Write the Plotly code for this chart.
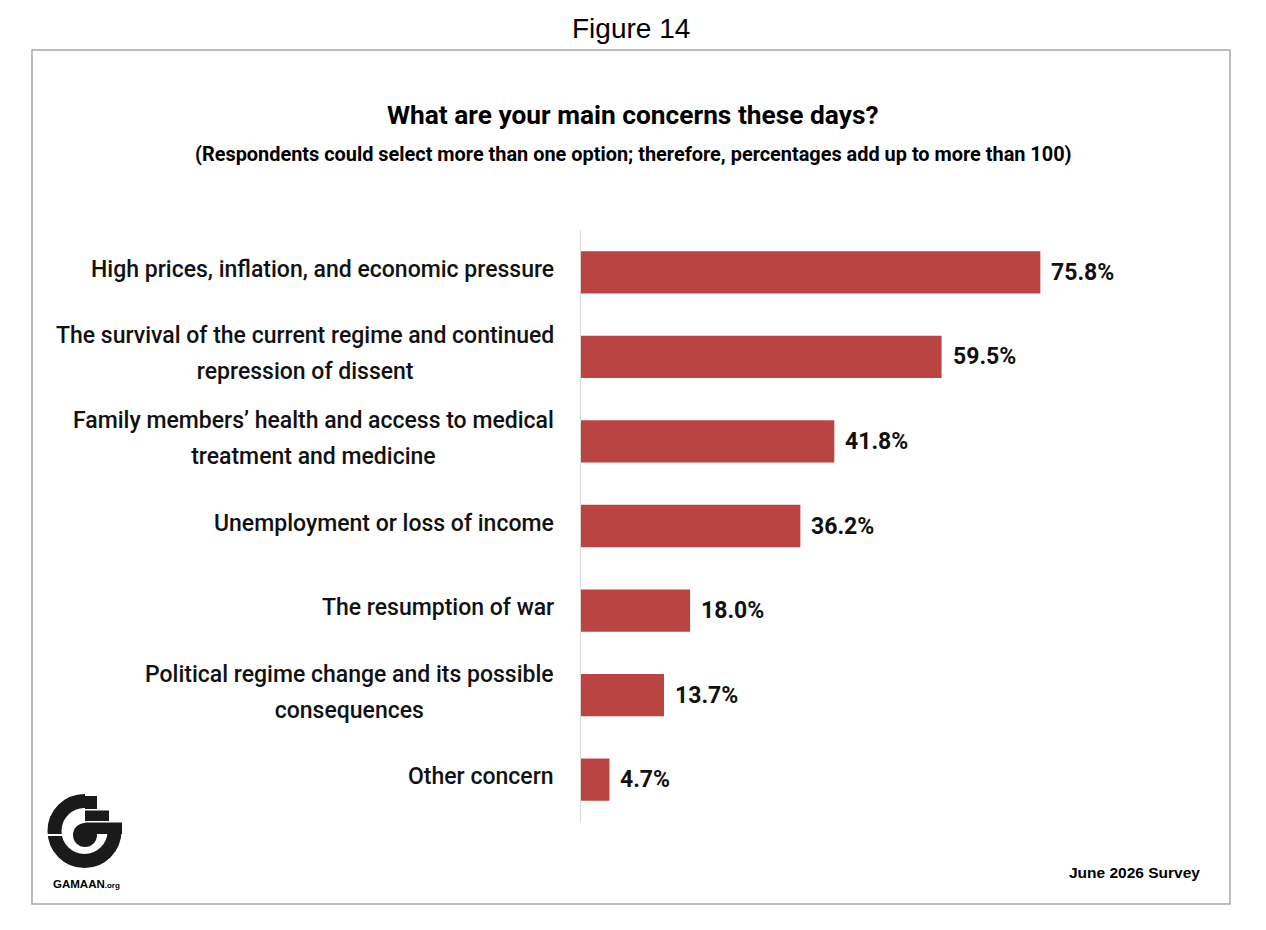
import plotly.graph_objects as go

# data
categories = [
    "High prices, inflation, and economic pressure",
    "The survival of the current regime and continued\nrepression of dissent",
    "Family members\u2019 health and access to medical\ntreatment and medicine",
    "Unemployment or loss of income",
    "The resumption of war",
    "Political regime change and its possible\nconsequences",
    "Other concern",
]
values = [75.8, 59.5, 41.8, 36.2, 18.0, 13.7, 4.7]
value_labels = ["75.8%", "59.5%", "41.8%", "36.2%", "18.0%", "13.7%", "4.7%"]

BAR_COLOR = "#B94442"
FONT = "Roboto"

# page offset of the figure inside the browser (body margin)
OFF = 8
W, H = 1266, 930
# plot area, in reference-picture pixels
L, R, T, B = 581, 1187, 230, 822


def px(x):
    return (x - L) / (R - L)


def py(y):
    return (B - y) / (B - T)


fig = go.Figure()
fig.add_trace(go.Bar(
    x=values,
    y=categories,
    orientation="h",
    width=0.5,
    marker=dict(color=BAR_COLOR, line=dict(width=0)),
    hoverinfo="skip",
))

annotations = []
# category labels: outer font size sets the line gap, inner span the glyph size
for cat in categories:
    lines = cat.split("\n")
    text = "<br>".join("<span style='font-size:23px'>%s</span>" % ln for ln in lines)
    annotations.append(dict(x=0, xref="paper", y=cat, yref="y", xanchor="right", yanchor="middle",
                            align="center", showarrow=False, xshift=-25, yshift=3, text=text,
                            font=dict(family=FONT, size=27.7, color="#111111", weight=500)))

# value labels
for cat, v, lab in zip(categories, values, value_labels):
    annotations.append(dict(x=v, xref="x", y=cat, yref="y", xanchor="left", yanchor="middle",
                            text=lab, showarrow=False, xshift=9,
                            font=dict(family=FONT, size=23, color="#111111", weight=700)))

# titles and notes
annotations += [
    dict(x=px(631), y=py(28), xref="paper", yref="paper", text="Figure 14", showarrow=False,
         xanchor="center", yanchor="middle", font=dict(family="Liberation Sans", size=28, color="#000000")),
    dict(x=px(633), y=py(115), xref="paper", yref="paper", text="<b>What are your main concerns these days?</b>",
         showarrow=False, xanchor="center", yanchor="middle", font=dict(family=FONT, size=26.3, color="#000000")),
    dict(x=px(633), y=py(155), xref="paper", yref="paper",
         text="<b>(Respondents could select more than one option; therefore, percentages add up to more than 100)</b>",
         showarrow=False, xanchor="center", yanchor="middle", font=dict(family=FONT, size=19.9, color="#000000")),
    dict(x=px(1202), y=py(872), xref="paper", yref="paper", text="<b>June 2026 Survey</b>",
         showarrow=False, xanchor="right", yanchor="middle", font=dict(family="Liberation Sans", size=15.5, color="#000000")),
    dict(x=px(86), y=py(884), xref="paper", yref="paper",
         text="<b>GAMAAN<span style='font-size:8px'>.org</span></b>",
         showarrow=False, xanchor="center", yanchor="middle", font=dict(family="Liberation Sans", size=11.5, color="#000000")),
]


def rect(x0, y0, x1, y1, **kw):
    return dict(type="rect", xref="paper", yref="paper", x0=px(x0), x1=px(x1), y0=py(y1), y1=py(y0), **kw)


def circ(cx, cy, r, **kw):
    return dict(type="circle", xref="paper", yref="paper", x0=px(cx - r), x1=px(cx + r),
                y0=py(cy + r), y1=py(cy - r), **kw)


shapes = [
    # outer frame
    rect(32, 50, 1230, 904, line=dict(color="#A6A6A6", width=1.5), fillcolor="rgba(0,0,0,0)", layer="below"),
    # logo: ring
    circ(84.5, 831, 30, line=dict(color="#1a1a1a", width=14), fillcolor="rgba(0,0,0,0)"),
    # clear top-right quadrant of ring
    rect(85, 790, 126, 834, line=dict(width=0), fillcolor="white"),
    # white split line on left side of ring
    rect(44, 834, 72, 836, line=dict(width=0), fillcolor="white"),
    # inner dot
    circ(85, 835, 12, line=dict(width=0), fillcolor="#1a1a1a"),
    # stacked blocks
    rect(85, 796, 97, 809, line=dict(width=0), fillcolor="#1a1a1a"),
    rect(85, 810.5, 109, 821, line=dict(width=0), fillcolor="#1a1a1a"),
    rect(85, 822.5, 122, 834, line=dict(width=0), fillcolor="#1a1a1a"),
]

fig.update_layout(
    width=W, height=H,
    margin=dict(l=L - OFF, r=W - (R - OFF), t=T - OFF, b=H - (B - OFF), pad=0),
    paper_bgcolor="white",
    plot_bgcolor="white",
    showlegend=False,
    bargap=0.5,
    xaxis=dict(range=[0, 100], visible=False, fixedrange=True),
    yaxis=dict(autorange="reversed", showticklabels=False, ticks="", showgrid=False,
               showline=True, linecolor="#D9D9D9", linewidth=1, zeroline=False, fixedrange=True),
    annotations=annotations,
    shapes=shapes,
)

fig.write_html("out.html")
